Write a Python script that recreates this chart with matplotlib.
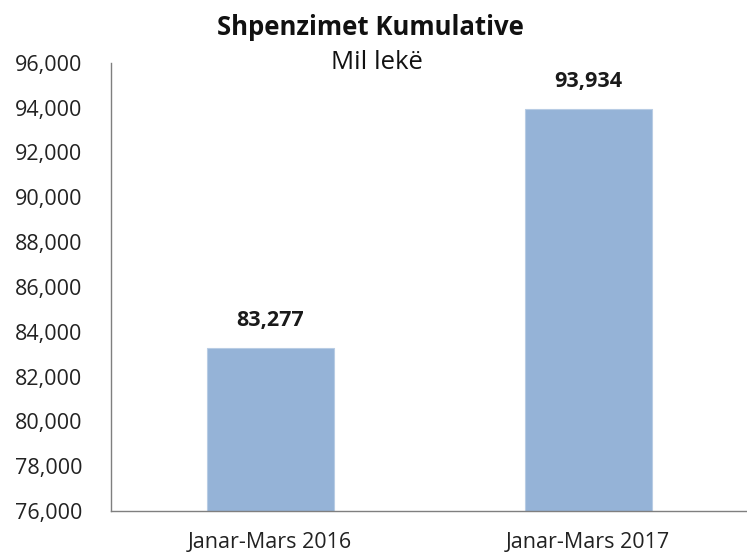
import matplotlib.pyplot as plt
from matplotlib.ticker import FuncFormatter

# ---- data ----
categories = ["Janar-Mars 2016", "Janar-Mars 2017"]
values = [83277, 93934]
y_ticks = list(range(76000, 96001, 2000))

plt.rcParams['font.family'] = ['Open Sans', 'DejaVu Sans']

fig = plt.figure(figsize=(7.47, 5.56), dpi=100)
ax = fig.add_axes([0.149, 0.081, 0.851, 0.806])

x = range(len(categories))
ax.bar(x, values, width=0.4, color="#95B3D7", edgecolor="#B8CCE4", linewidth=0.8)

for xi, v in zip(x, values):
    ax.text(xi, v + 750, f"{v:,}", ha="center", va="bottom",
            fontsize=15.5, fontweight="bold", color="#1a1a1a")

ax.set_xlim(-0.5, 1.5)
ax.set_ylim(76000, 96000)
ax.set_yticks(y_ticks)
ax.yaxis.set_major_formatter(FuncFormatter(lambda v, p: f"{int(v):,}"))
ax.set_xticks(list(x))
ax.set_xticklabels(categories)
ax.tick_params(axis="both", length=0, labelsize=15.5, colors="#222222")
ax.tick_params(axis="x", pad=15)
ax.tick_params(axis="y", pad=21)

for s in ["top", "right"]:
    ax.spines[s].set_visible(False)
for s in ["left", "bottom"]:
    ax.spines[s].set_color("#7f7f7f")
    ax.spines[s].set_linewidth(1.0)

fig.text(0.496, 0.951, "Shpenzimet Kumulative", ha="center", va="center",
         fontsize=18.5, fontweight="bold", color="#111111")
fig.text(0.505, 0.887, "Mil lekë", ha="center", va="center",
         fontsize=18.5, color="#111111")

fig.savefig("out.png", dpi=100)
